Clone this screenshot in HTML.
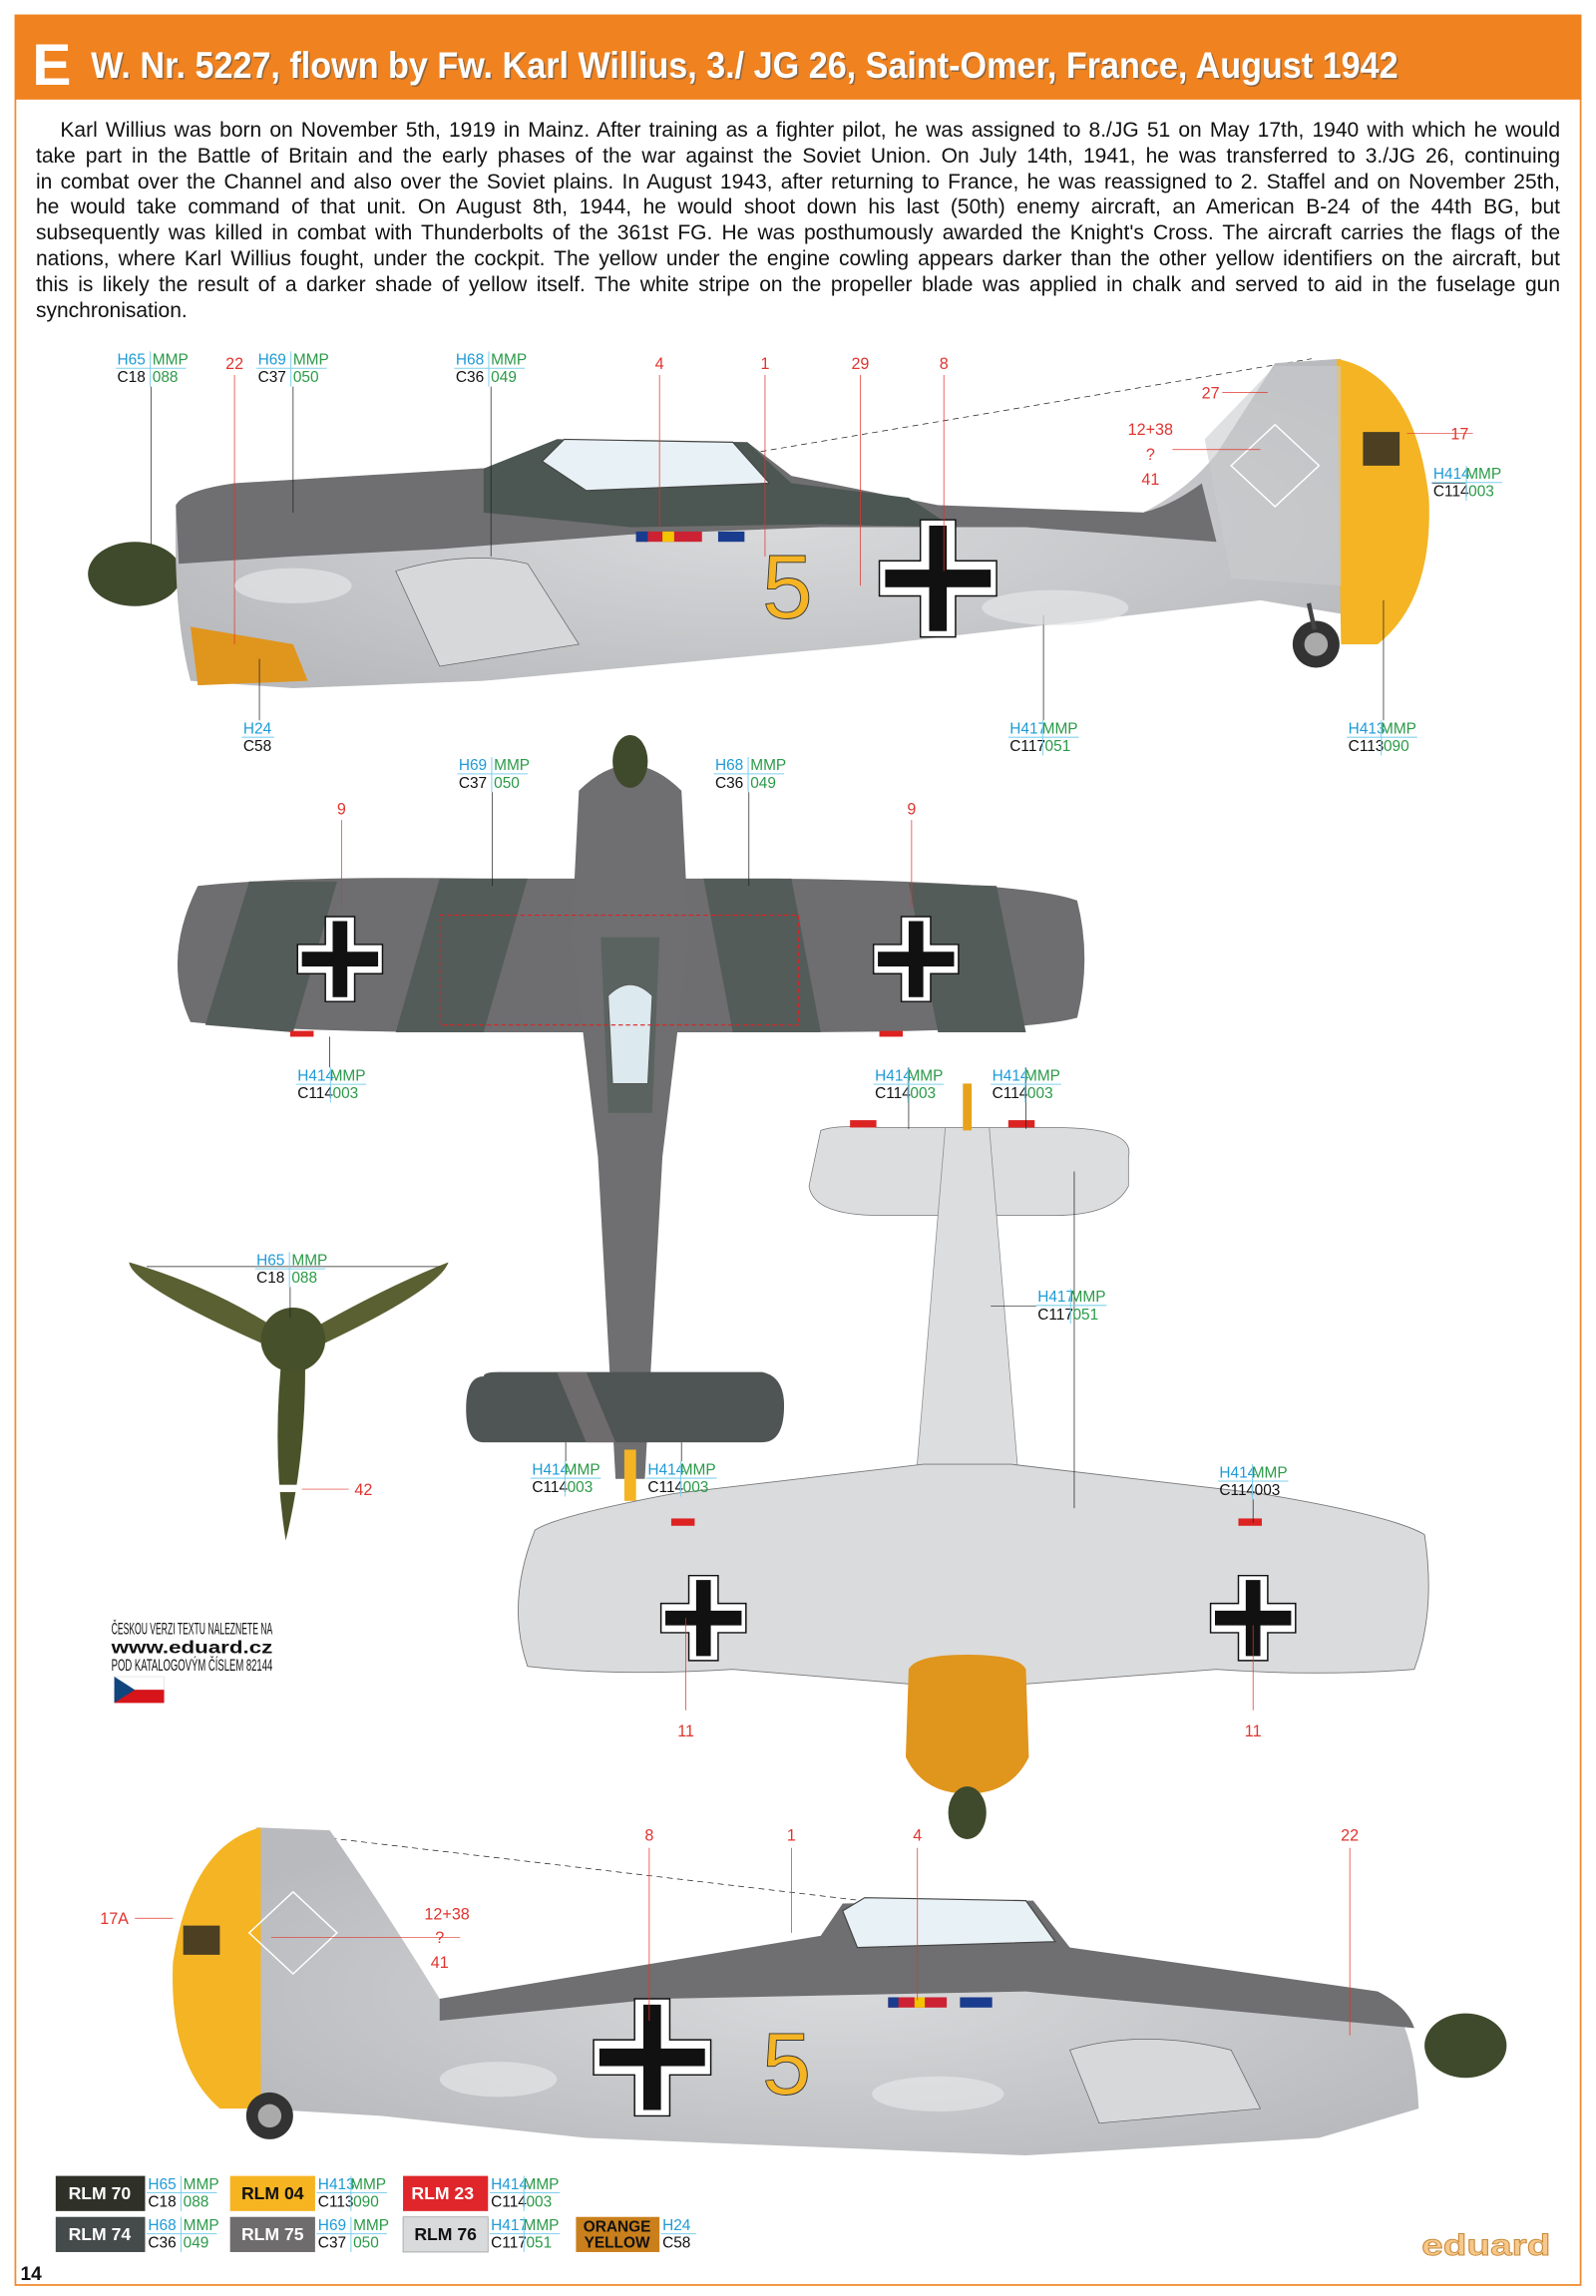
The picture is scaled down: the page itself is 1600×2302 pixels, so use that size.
<!DOCTYPE html>
<html><head><meta charset="utf-8">
<style>
html,body{margin:0;padding:0;background:#fff;}
body{width:1600px;height:2302px;position:relative;overflow:hidden;}
svg{position:absolute;left:0;top:0;}
#para{position:absolute;left:36px;top:118px;width:1528px;font-family:"Liberation Sans Narrow","Liberation Sans",sans-serif;font-size:21px;line-height:25.8px;color:#111;}
#para div{text-align:justify;text-align-last:justify;white-space:nowrap;}
#para div.last{text-align-last:left;}
.h{fill:#1e9bd7;}.m{fill:#2a9a48;}.c{fill:#111;}
.cb text{font-family:"Liberation Sans Narrow","Liberation Sans",sans-serif;font-size:10.5px;}
.cb line{stroke:#7fd0ee;stroke-width:.7;}
.r{fill:#e0342f;font-family:"Liberation Sans",sans-serif;font-size:11px;text-anchor:middle;}
.ld{stroke:#222;stroke-width:.5;fill:none;}
.lr{stroke:#e0342f;stroke-width:.5;fill:none;}
</style></head><body>
<svg width="1600" height="2302" viewBox="0 0 1089 1568" preserveAspectRatio="none" xmlns="http://www.w3.org/2000/svg">
<defs>
<g id="bk">
 <path d="M-12,-40 H12 V-12 H40 V12 H12 V40 H-12 V12 H-40 V-12 H-12Z" fill="#fff" stroke="#111" stroke-width="1"/>
 <path d="M-6,-36 H6 V-6 H36 V6 H6 V36 H-6 V6 H-36 V-6 H-6Z" fill="#111"/>
</g>
<g id="bks">
 <path d="M-10,-29 H10 V-10 H29 V10 H10 V29 H-10 V10 H-29 V-10 H-10Z" fill="#fff" stroke="#111" stroke-width="1"/>
 <path d="M-5,-26 H5 V-5 H26 V5 H5 V26 H-5 V5 H-26 V-5 H-5Z" fill="#111"/>
</g>
<radialGradient id="mot" cx=".5" cy=".5" r=".6"><stop offset="0" stop-color="#d9dadc"/><stop offset="1" stop-color="#b9babd"/></radialGradient>
</defs>

<rect x="10.5" y="10.5" width="1068" height="1550" fill="none" stroke="#f08a2e" stroke-width="1.2"/>
<rect x="10" y="10" width="1069" height="58" fill="#f0821f"/>
<text x="22" y="58" font-family="Liberation Sans,sans-serif" font-weight="bold" font-size="40" fill="#fff">E</text>
<text x="62" y="53" font-family="Liberation Sans Narrow,Liberation Sans,sans-serif" font-weight="bold" font-size="25" fill="#555" textLength="892" lengthAdjust="spacingAndGlyphs" opacity=".6" transform="translate(1,1)">W. Nr. 5227, flown by Fw. Karl Willius, 3./ JG 26, Saint-Omer, France, August 1942</text>
<text x="62" y="53" font-family="Liberation Sans Narrow,Liberation Sans,sans-serif" font-weight="bold" font-size="25" fill="#fff" textLength="892" lengthAdjust="spacingAndGlyphs">W. Nr. 5227, flown by Fw. Karl Willius, 3./ JG 26, Saint-Omer, France, August 1942</text>

<!-- TOP PROFILE -->
<path class="ld" d="M450,320 L895,245" stroke-dasharray="4,3" stroke="#333"/>
<ellipse cx="92" cy="392" rx="32" ry="22" fill="#3f4a2c"/>
<path d="M120,345 Q125,335 160,330 L360,318 L380,300 L510,302 L540,325 L640,345 L780,350 Q810,335 830,310 L870,248 L915,245 L920,420 L860,410 L600,440 L330,465 L200,470 L130,465 Q118,420 120,345Z" fill="url(#mot)"/>
<path d="M120,345 Q125,335 160,330 L360,318 L380,300 L510,302 L540,325 L640,345 L780,350 Q800,345 820,330 L830,370 L700,360 L560,360 L430,365 L300,375 L200,380 L122,385Z" fill="#6f6e70"/>
<path d="M330,320 L380,300 L510,302 L540,330 L620,340 L650,360 L560,358 L430,360 L330,350Z" fill="#4c5652"/>
<path d="M370,315 L385,300 L500,302 L525,330 L400,335Z" fill="#e8f1f5" stroke="#444" stroke-width=".8"/>
<path d="M130,428 L200,440 L210,465 L135,468Z" fill="#e0951d"/>
<path d="M270,390 Q320,375 360,385 L395,440 L300,455Z" fill="#d6d8da" stroke="#666" stroke-width=".5"/>
<path d="M912,245 Q965,255 975,340 Q978,410 940,440 L915,440Z" fill="#f4b424"/>
<path d="M930,295 H955 V318 H930Z" fill="#222" opacity=".8"/>
<path d="M822,300 L870,250 L915,250 L915,400 L840,395Z" fill="#c9cbcd" opacity=".6"/>
<path d="M840,318 L870,290 L900,318 L870,346Z" fill="none" stroke="#fff" stroke-width="1"/>
<use href="#bk" x="640" y="395"/>
<text x="520" y="422" font-family="Liberation Sans,sans-serif" font-size="62" fill="#f4b424" stroke="#333" stroke-width=".6">5</text>
<rect x="434" y="363" width="45" height="7" fill="#c23"/>
<rect x="434" y="363" width="8" height="7" fill="#1a3c8e"/><rect x="452" y="363" width="8" height="7" fill="#f2c500"/><rect x="490" y="363" width="18" height="7" fill="#1a3c8e"/>
<circle cx="898" cy="440" r="16" fill="#333"/><circle cx="898" cy="440" r="8" fill="#aaa"/>
<line x1="893" y1="412" x2="897" y2="430" stroke="#444" stroke-width="3"/>

<!-- TOP VIEW -->
<path d="M135,605 Q200,598 330,600 L530,600 Q700,602 735,615 Q745,655 735,695 Q700,705 530,705 L330,705 Q200,705 130,698 Q110,655 135,605Z" fill="#6e6e70"/>
<path d="M300,600 L360,600 L330,705 L270,705Z M480,600 L540,600 L560,705 L500,705Z M170,602 L230,602 L200,705 L140,700Z M620,603 L680,605 L700,705 L640,705Z" fill="#545c59"/>
<path d="M395,540 Q430,505 465,540 L470,640 L452,790 L440,1010 L420,1010 L408,790 L390,640Z" fill="#6f6e70"/>
<path d="M410,640 L450,640 L445,760 L415,760Z" fill="#5a635f"/>
<path d="M415,680 Q430,665 445,680 L442,740 L418,740Z" fill="#dce9ee" stroke="#555" stroke-width=".6"/>
<ellipse cx="430" cy="520" rx="12" ry="18" fill="#3f4a2c"/>
<path d="M330,940 Q330,937 340,937 L520,937 Q535,940 535,960 Q535,985 520,985 L330,985 Q318,985 318,962 Q318,940 330,940Z" fill="#4f5554"/>
<path d="M380,937 L400,937 L420,985 L400,985Z" fill="#6f6c6d"/>
<rect x="426" y="990" width="8" height="35" fill="#f4b424"/>
<use href="#bks" x="232" y="655"/><use href="#bks" x="625" y="655"/>
<path d="M300,625 H545 V700 H300Z" fill="none" stroke="#d22" stroke-width=".8" stroke-dasharray="3,2"/>
<rect x="198" y="704" width="16" height="4" fill="#d22"/><rect x="600" y="704" width="16" height="4" fill="#d22"/>

<!-- PROPELLER -->
<path d="M200,915 Q150,880 88,862 Q90,878 180,918Z" fill="#5a6032"/>
<path d="M200,915 Q260,880 306,862 Q300,880 220,918Z" fill="#5a6032"/>
<path d="M193,920 Q185,990 195,1052 Q210,990 208,920Z" fill="#4a5229"/>
<circle cx="200" cy="915" r="22" fill="#46502a"/>
<rect x="186" y="1014" width="20" height="5" fill="#fff"/>
<line class="lr" x1="206" y1="1017" x2="238" y2="1017"/>
<text class="r" x="248" y="1021">42</text>

<!-- BOTTOM VIEW -->
<path d="M560,772 Q570,768 600,770 L720,770 Q775,770 770,790 L770,810 Q760,830 720,830 L600,830 Q555,830 552,810 Z" fill="#dcdddf" stroke="#777" stroke-width=".5"/>
<path d="M645,770 L675,770 L695,1010 L625,1010Z" fill="#dcdddf" stroke="#888" stroke-width=".5"/>
<path d="M365,1045 Q380,1035 460,1020 L630,1000 L690,1000 L860,1020 Q950,1035 972,1048 Q980,1100 965,1140 Q900,1145 830,1140 L700,1150 L620,1150 L500,1140 Q420,1145 360,1138 Q345,1095 365,1045Z" fill="#dadbdd" stroke="#777" stroke-width=".6"/>
<path d="M620,1140 Q625,1130 660,1130 Q695,1130 700,1140 L702,1200 Q690,1225 660,1225 Q630,1225 618,1200Z" fill="#e0951d"/>
<ellipse cx="660" cy="1238" rx="13" ry="18" fill="#3f4a2c"/>
<rect x="657" y="740" width="6" height="32" fill="#e6a21a"/>
<use href="#bks" x="480" y="1105"/><use href="#bks" x="855" y="1105"/>
<rect x="580" y="765" width="18" height="5" fill="#d22"/><rect x="688" y="765" width="18" height="5" fill="#d22"/>
<rect x="458" y="1037" width="16" height="5" fill="#d22"/><rect x="845" y="1037" width="16" height="5" fill="#d22"/>
<line class="lr" x1="468" y1="1105" x2="468" y2="1168"/><text class="r" x="468" y="1186">11</text>
<line class="lr" x1="855" y1="1110" x2="855" y2="1168"/><text class="r" x="855" y="1186">11</text>

<!-- BOTTOM PROFILE -->
<path d="M605,1300 L180,1250" class="ld" stroke-dasharray="4,3" stroke="#333"/>
<ellipse cx="1000" cy="1397" rx="28" ry="22" fill="#3f4a2c"/>
<path d="M175,1248 L225,1250 Q260,1300 300,1365 L560,1322 L575,1300 L705,1298 L730,1330 L940,1360 Q965,1375 968,1440 L900,1460 L700,1472 L400,1460 L260,1445 L175,1440Z" fill="url(#mot)"/>
<path d="M300,1365 L560,1322 L575,1300 L705,1298 L730,1330 L940,1360 Q960,1370 965,1385 L700,1360 L450,1365 L300,1380Z" fill="#6f6e70"/>
<path d="M575,1305 L590,1296 L700,1298 L720,1326 L585,1330Z" fill="#e8f1f5" stroke="#444" stroke-width=".8"/>
<path d="M178,1248 Q130,1260 118,1340 Q115,1410 150,1440 L178,1440Z" fill="#f4b424"/>
<path d="M125,1315 H150 V1335 H125Z" fill="#222" opacity=".8"/>
<path d="M170,1320 L200,1292 L230,1320 L200,1348Z" fill="none" stroke="#fff" stroke-width="1"/>
<path d="M730,1400 Q780,1385 840,1400 L860,1440 L750,1450Z" fill="#d6d8da" stroke="#666" stroke-width=".5"/>
<use href="#bk" x="445" y="1405"/>
<text x="520" y="1430" font-family="Liberation Sans,sans-serif" font-size="60" fill="#f4b424" stroke="#333" stroke-width=".6">5</text>
<rect x="606" y="1364" width="40" height="7" fill="#c23"/><rect x="606" y="1364" width="7" height="7" fill="#1a3c8e"/><rect x="624" y="1364" width="7" height="7" fill="#f2c500"/><rect x="655" y="1364" width="22" height="7" fill="#1a3c8e"/>
<circle cx="184" cy="1445" r="16" fill="#333"/><circle cx="184" cy="1445" r="8" fill="#aaa"/>

<g class="r">
<text x="160" y="252">22</text><text x="450" y="252">4</text><text x="522" y="252">1</text><text x="587" y="252">29</text><text x="644" y="252">8</text>
<text x="826" y="272">27</text><text x="785" y="297">12+38</text><text x="785" y="314">?</text><text x="785" y="331">41</text><text x="996" y="300">17</text>
<text x="233" y="556">9</text><text x="622" y="556">9</text>
<text x="443" y="1257">8</text><text x="540" y="1257">1</text><text x="626" y="1257">4</text><text x="921" y="1257">22</text>
<text x="78" y="1314">17A</text><text x="305" y="1311">12+38</text><text x="300" y="1327">?</text><text x="300" y="1344">41</text>
</g>
<g class="lr">
<line x1="160" y1="256" x2="160" y2="440"/><line x1="450" y1="256" x2="450" y2="360"/><line x1="522" y1="256" x2="522" y2="380"/><line x1="587" y1="256" x2="587" y2="400"/><line x1="644" y1="256" x2="644" y2="390"/>
<line x1="834" y1="268" x2="865" y2="268"/><line x1="800" y1="307" x2="860" y2="307"/><line x1="1005" y1="296" x2="960" y2="296"/>
<line x1="233" y1="560" x2="233" y2="620"/><line x1="622" y1="560" x2="622" y2="620"/>
<line x1="443" y1="1262" x2="443" y2="1380"/><line x1="540" y1="1262" x2="540" y2="1320"/><line x1="626" y1="1262" x2="626" y2="1366"/><line x1="921" y1="1262" x2="921" y2="1390"/>
<line x1="92" y1="1310" x2="118" y2="1310"/><line x1="314" y1="1323" x2="185" y2="1323"/>
</g>

<g class="ld">
<line x1="103" y1="264" x2="103" y2="372"/><line x1="200" y1="264" x2="200" y2="350"/><line x1="335" y1="264" x2="335" y2="380"/>
<line x1="1000" y1="330" x2="977" y2="330"/><line x1="177" y1="492" x2="177" y2="450"/><line x1="712" y1="492" x2="712" y2="420"/><line x1="944" y1="492" x2="944" y2="410"/>
<line x1="336" y1="541" x2="336" y2="605"/><line x1="511" y1="541" x2="511" y2="605"/>
<line x1="225" y1="729" x2="225" y2="708"/><line x1="620" y1="729" x2="620" y2="771"/><line x1="700" y1="729" x2="700" y2="771"/>
<line x1="198" y1="879" x2="198" y2="900"/><line x1="100" y1="865" x2="300" y2="865"/>
<line x1="707" y1="892" x2="676" y2="892"/><line x1="733" y1="800" x2="733" y2="1030"/>
<line x1="386" y1="998" x2="386" y2="985"/><line x1="465" y1="998" x2="465" y2="985"/><line x1="855" y1="1024" x2="855" y2="1040"/>
</g>

<g class="cb">
<g transform="translate(79,240)"><text class="h" x="1" y="9">H65</text><text class="m" x="25" y="9">MMP</text><line x1="0" y1="11.5" x2="48" y2="11.5"/><text class="c" x="1" y="21">C18</text><text class="m" x="25" y="21">088</text><line x1="23.5" y1="0" x2="23.5" y2="24"/></g>
<g transform="translate(175,240)"><text class="h" x="1" y="9">H69</text><text class="m" x="25" y="9">MMP</text><line x1="0" y1="11.5" x2="48" y2="11.5"/><text class="c" x="1" y="21">C37</text><text class="m" x="25" y="21">050</text><line x1="23.5" y1="0" x2="23.5" y2="24"/></g>
<g transform="translate(310,240)"><text class="h" x="1" y="9">H68</text><text class="m" x="25" y="9">MMP</text><line x1="0" y1="11.5" x2="48" y2="11.5"/><text class="c" x="1" y="21">C36</text><text class="m" x="25" y="21">049</text><line x1="23.5" y1="0" x2="23.5" y2="24"/></g>
<g transform="translate(977,318)"><text class="h" x="1" y="9">H414</text><text class="m" x="23" y="9">MMP</text><line x1="0" y1="11.5" x2="48" y2="11.5"/><text class="c" x="1" y="21">C114</text><text class="m" x="25" y="21">003</text><line x1="23.5" y1="0" x2="23.5" y2="24"/></g>
<g transform="translate(165,492)"><text class="h" x="1" y="9">H24</text><line x1="0" y1="11.5" x2="22" y2="11.5"/><text class="c" x="1" y="21">C58</text></g>
<g transform="translate(688,492)"><text class="h" x="1" y="9">H417</text><text class="m" x="23" y="9">MMP</text><line x1="0" y1="11.5" x2="48" y2="11.5"/><text class="c" x="1" y="21">C117</text><text class="m" x="25" y="21">051</text><line x1="23.5" y1="0" x2="23.5" y2="24"/></g>
<g transform="translate(919,492)"><text class="h" x="1" y="9">H413</text><text class="m" x="23" y="9">MMP</text><line x1="0" y1="11.5" x2="48" y2="11.5"/><text class="c" x="1" y="21">C113</text><text class="m" x="25" y="21">090</text><line x1="23.5" y1="0" x2="23.5" y2="24"/></g>
<g transform="translate(312,517)"><text class="h" x="1" y="9">H69</text><text class="m" x="25" y="9">MMP</text><line x1="0" y1="11.5" x2="48" y2="11.5"/><text class="c" x="1" y="21">C37</text><text class="m" x="25" y="21">050</text><line x1="23.5" y1="0" x2="23.5" y2="24"/></g>
<g transform="translate(487,517)"><text class="h" x="1" y="9">H68</text><text class="m" x="25" y="9">MMP</text><line x1="0" y1="11.5" x2="48" y2="11.5"/><text class="c" x="1" y="21">C36</text><text class="m" x="25" y="21">049</text><line x1="23.5" y1="0" x2="23.5" y2="24"/></g>
<g transform="translate(202,729)"><text class="h" x="1" y="9">H414</text><text class="m" x="23" y="9">MMP</text><line x1="0" y1="11.5" x2="48" y2="11.5"/><text class="c" x="1" y="21">C114</text><text class="m" x="25" y="21">003</text><line x1="23.5" y1="0" x2="23.5" y2="24"/></g>
<g transform="translate(596,729)"><text class="h" x="1" y="9">H414</text><text class="m" x="23" y="9">MMP</text><line x1="0" y1="11.5" x2="48" y2="11.5"/><text class="c" x="1" y="21">C114</text><text class="m" x="25" y="21">003</text><line x1="23.5" y1="0" x2="23.5" y2="24"/></g>
<g transform="translate(676,729)"><text class="h" x="1" y="9">H414</text><text class="m" x="23" y="9">MMP</text><line x1="0" y1="11.5" x2="48" y2="11.5"/><text class="c" x="1" y="21">C114</text><text class="m" x="25" y="21">003</text><line x1="23.5" y1="0" x2="23.5" y2="24"/></g>
<g transform="translate(174,855)"><text class="h" x="1" y="9">H65</text><text class="m" x="25" y="9">MMP</text><line x1="0" y1="11.5" x2="48" y2="11.5"/><text class="c" x="1" y="21">C18</text><text class="m" x="25" y="21">088</text><line x1="23.5" y1="0" x2="23.5" y2="24"/></g>
<g transform="translate(707,880)"><text class="h" x="1" y="9">H417</text><text class="m" x="23" y="9">MMP</text><line x1="0" y1="11.5" x2="48" y2="11.5"/><text class="c" x="1" y="21">C117</text><text class="m" x="25" y="21">051</text><line x1="23.5" y1="0" x2="23.5" y2="24"/></g>
<g transform="translate(362,998)"><text class="h" x="1" y="9">H414</text><text class="m" x="23" y="9">MMP</text><line x1="0" y1="11.5" x2="48" y2="11.5"/><text class="c" x="1" y="21">C114</text><text class="m" x="25" y="21">003</text><line x1="23.5" y1="0" x2="23.5" y2="24"/></g>
<g transform="translate(441,998)"><text class="h" x="1" y="9">H414</text><text class="m" x="23" y="9">MMP</text><line x1="0" y1="11.5" x2="48" y2="11.5"/><text class="c" x="1" y="21">C114</text><text class="m" x="25" y="21">003</text><line x1="23.5" y1="0" x2="23.5" y2="24"/></g>
<g transform="translate(831,1000)"><text class="h" x="1" y="9">H414</text><text class="m" x="23" y="9">MMP</text><line x1="0" y1="11.5" x2="48" y2="11.5"/><text class="c" x="1" y="21">C114</text><text class="c" x="25" y="21">003</text><line x1="23.5" y1="0" x2="23.5" y2="24"/></g>
</g>

<g font-family="Liberation Sans Narrow,Liberation Sans,sans-serif" fill="#111">
<text x="76" y="1116" font-size="11" textLength="110" lengthAdjust="spacingAndGlyphs">ČESKOU VERZI TEXTU NALEZNETE NA</text>
<text x="76" y="1129" font-size="12" font-weight="bold" textLength="110" lengthAdjust="spacingAndGlyphs" font-family="Liberation Sans,sans-serif">www.eduard.cz</text>
<text x="76" y="1141" font-size="11" textLength="110" lengthAdjust="spacingAndGlyphs">POD KATALOGOVÝM ČÍSLEM 82144</text>
</g>
<rect x="78" y="1145" width="34" height="9" fill="#fff" stroke="#ccc" stroke-width=".3"/><rect x="78" y="1154" width="34" height="9" fill="#d7141a"/><path d="M78,1145 L92,1154 L78,1163Z" fill="#11457e"/>

<g font-family="Liberation Sans,sans-serif" font-weight="bold" font-size="12" text-anchor="middle">
<rect x="38" y="1486" width="61" height="24" fill="#2f3129"/><text x="68" y="1502" fill="#fff">RLM 70</text>
<rect x="157" y="1486" width="58" height="24" fill="#f6b421"/><text x="186" y="1502" fill="#111">RLM 04</text>
<rect x="275" y="1486" width="58" height="24" fill="#e0262a"/><text x="302" y="1502" fill="#fff">RLM 23</text>
<rect x="38" y="1514" width="61" height="24" fill="#454a4a"/><text x="68" y="1530" fill="#fff">RLM 74</text>
<rect x="157" y="1514" width="58" height="24" fill="#6f6c6d"/><text x="186" y="1530" fill="#fff">RLM 75</text>
<rect x="275" y="1514" width="58" height="24" fill="#d8dadb" stroke="#999" stroke-width=".5"/><text x="304" y="1530" fill="#111">RLM 76</text>
<rect x="393" y="1514" width="57" height="24" fill="#c97f1c"/><text x="421" y="1524" fill="#111" font-size="10.5">ORANGE</text><text x="421" y="1535" fill="#111" font-size="10.5">YELLOW</text>
</g>
<g class="cb">
<g transform="translate(100,1486)"><text class="h" x="1" y="9">H65</text><text class="m" x="25" y="9">MMP</text><line x1="0" y1="11.5" x2="48" y2="11.5"/><text class="c" x="1" y="21">C18</text><text class="m" x="25" y="21">088</text><line x1="23.5" y1="0" x2="23.5" y2="24"/></g>
<g transform="translate(216,1486)"><text class="h" x="1" y="9">H413</text><text class="m" x="23" y="9">MMP</text><line x1="0" y1="11.5" x2="48" y2="11.5"/><text class="c" x="1" y="21">C113</text><text class="m" x="25" y="21">090</text><line x1="23.5" y1="0" x2="23.5" y2="24"/></g>
<g transform="translate(334,1486)"><text class="h" x="1" y="9">H414</text><text class="m" x="23" y="9">MMP</text><line x1="0" y1="11.5" x2="48" y2="11.5"/><text class="c" x="1" y="21">C114</text><text class="m" x="25" y="21">003</text><line x1="23.5" y1="0" x2="23.5" y2="24"/></g>
<g transform="translate(100,1514)"><text class="h" x="1" y="9">H68</text><text class="m" x="25" y="9">MMP</text><line x1="0" y1="11.5" x2="48" y2="11.5"/><text class="c" x="1" y="21">C36</text><text class="m" x="25" y="21">049</text><line x1="23.5" y1="0" x2="23.5" y2="24"/></g>
<g transform="translate(216,1514)"><text class="h" x="1" y="9">H69</text><text class="m" x="25" y="9">MMP</text><line x1="0" y1="11.5" x2="48" y2="11.5"/><text class="c" x="1" y="21">C37</text><text class="m" x="25" y="21">050</text><line x1="23.5" y1="0" x2="23.5" y2="24"/></g>
<g transform="translate(334,1514)"><text class="h" x="1" y="9">H417</text><text class="m" x="23" y="9">MMP</text><line x1="0" y1="11.5" x2="48" y2="11.5"/><text class="c" x="1" y="21">C117</text><text class="m" x="25" y="21">051</text><line x1="23.5" y1="0" x2="23.5" y2="24"/></g>
<g transform="translate(451,1514)"><text class="h" x="1" y="9">H24</text><line x1="0" y1="11.5" x2="24" y2="11.5"/><text class="c" x="1" y="21">C58</text></g>
</g>
<text x="14" y="1557" font-family="Liberation Sans,sans-serif" font-weight="bold" font-size="13" fill="#111">14</text>
<text x="970" y="1540" font-family="Liberation Sans,sans-serif" font-weight="bold" font-size="20" fill="#f6c88a" stroke="#c98a3a" stroke-width=".6" textLength="88" lengthAdjust="spacingAndGlyphs">eduard</text>
<!-- light mottle on lower fuselage -->
<g fill="#e4e5e7" opacity=".7">
<ellipse cx="200" cy="400" rx="40" ry="12"/><ellipse cx="720" cy="415" rx="50" ry="12"/>
<ellipse cx="340" cy="1420" rx="40" ry="12"/><ellipse cx="640" cy="1430" rx="45" ry="12"/>
</g>
</svg>

<div id="para">
<div>&nbsp;&nbsp;&nbsp;Karl Willius was born on November 5th, 1919 in Mainz. After training as a fighter pilot, he was assigned to 8./JG 51 on May 17th, 1940 with which he would</div>
<div>take part in the Battle of Britain and the early phases of the war against the Soviet Union. On July 14th, 1941, he was transferred to 3./JG 26, continuing</div>
<div>in combat over the Channel and also over the Soviet plains. In August 1943, after returning to France, he was reassigned to 2. Staffel and on November 25th,</div>
<div>he would take command of that unit. On August 8th, 1944, he would shoot down his last (50th) enemy aircraft, an American B-24 of the 44th BG, but</div>
<div>subsequently was killed in combat with Thunderbolts of the 361st FG. He was posthumously awarded the Knight's Cross. The aircraft carries the flags of the</div>
<div>nations, where Karl Willius fought, under the cockpit. The yellow under the engine cowling appears darker than the other yellow identifiers on the aircraft, but</div>
<div>this is likely the result of a darker shade of yellow itself. The white stripe on the propeller blade was applied in chalk and served to aid in the fuselage gun</div>
<div class="last">synchronisation.</div>
</div>
</body></html>
